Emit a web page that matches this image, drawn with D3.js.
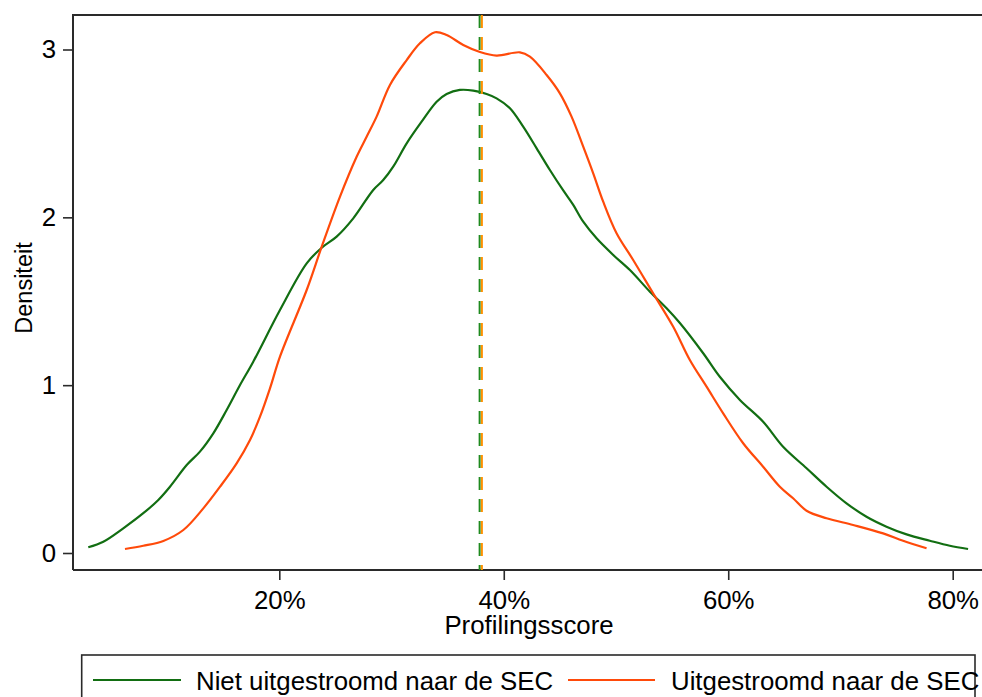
<!DOCTYPE html>
<html>
<head>
<meta charset="utf-8">
<script src="https://cdn.jsdelivr.net/npm/d3@7"></script>
<style>
  body { margin: 0; background: #fff; }
  svg text { font-family: "Liberation Sans", Arial, sans-serif; fill: #000; }
</style>
</head>
<body>
<div id="chart"></div>
<script>
// profilingsscore (%) and density
var nietX = [2.98, 4.32, 6.10, 7.88, 9.22, 10.26, 11.75, 12.93, 14.12, 15.31, 16.50, 17.68, 20.06, 22.44, 23.78, 25.11, 26.59, 28.37, 29.26, 30.15, 31.35, 32.68, 34.02, 34.91, 36.09, 37.28, 38.47, 39.36, 40.55, 41.73, 42.93, 44.11, 45.30, 46.19, 47.08, 48.27, 49.75, 51.24, 53.02, 54.51, 55.69, 57.77, 59.25, 61.04, 63.11, 64.89, 66.98, 68.76, 70.54, 72.32, 74.10, 75.89, 77.96, 79.74, 81.37];
var nietY = [0.034, 0.067, 0.147, 0.237, 0.316, 0.395, 0.524, 0.604, 0.713, 0.852, 1.001, 1.140, 1.448, 1.726, 1.819, 1.885, 1.994, 2.163, 2.222, 2.302, 2.441, 2.570, 2.689, 2.735, 2.759, 2.755, 2.735, 2.709, 2.650, 2.540, 2.411, 2.282, 2.160, 2.074, 1.974, 1.875, 1.776, 1.686, 1.557, 1.458, 1.370, 1.190, 1.050, 0.912, 0.782, 0.633, 0.505, 0.395, 0.296, 0.216, 0.157, 0.111, 0.073, 0.043, 0.024];

var uitX = [6.25, 7.88, 9.67, 11.45, 13.23, 14.72, 16.20, 17.39, 18.28, 19.17, 20.06, 22.44, 23.78, 25.40, 26.89, 27.78, 28.67, 29.86, 31.35, 32.53, 33.87, 34.91, 36.39, 37.88, 39.36, 41.44, 42.33, 43.82, 45.00, 46.04, 47.08, 47.97, 48.86, 50.05, 51.53, 53.31, 55.10, 56.58, 58.07, 59.55, 61.33, 63.11, 64.60, 65.78, 66.98, 68.76, 71.13, 73.80, 75.58, 77.67];
var uitY = [0.024, 0.043, 0.072, 0.137, 0.266, 0.395, 0.534, 0.673, 0.812, 0.981, 1.170, 1.567, 1.825, 2.122, 2.361, 2.480, 2.600, 2.789, 2.937, 3.037, 3.103, 3.086, 3.027, 2.985, 2.964, 2.983, 2.957, 2.848, 2.739, 2.600, 2.421, 2.262, 2.093, 1.905, 1.746, 1.547, 1.348, 1.150, 0.991, 0.832, 0.654, 0.514, 0.395, 0.326, 0.252, 0.207, 0.167, 0.117, 0.073, 0.028];

var nietMean = 37.85, uitMean = 38.05;
var xTicks = [20, 40, 60, 80];
var yTicks = [0, 1, 2, 3];
var legendLabels = ["Niet uitgestroomd naar de SEC", "Uitgestroomd naar de SEC"];

var width = 982, height = 697;
var plot = {left: 73, top: 15, right: 990, bottom: 570};
var green = "#126e12", orange = "#ff4a0a";

var svg = d3.select("#chart").append("svg")
    .attr("width", width)
    .attr("height", height);

var x = d3.scaleLinear().domain([20, 80]).range([279.3, 952.7]);
var y = d3.scaleLinear().domain([0, 3]).range([553, 49.5]);

// frame
svg.append("path")
    .attr("d", "M" + plot.left + "," + plot.bottom + "V" + plot.top + "H" + plot.right)
    .attr("fill", "none").attr("stroke", "#2a2a2a").attr("stroke-width", 2);
svg.append("line")
    .attr("x1", plot.left).attr("x2", plot.right)
    .attr("y1", plot.bottom).attr("y2", plot.bottom)
    .attr("stroke", "#2a2a2a").attr("stroke-width", 2);

var yAxis = svg.append("g")
    .attr("transform", "translate(" + plot.left + ",0)")
    .call(d3.axisLeft(y).tickValues(yTicks).tickSize(10).tickPadding(7).tickFormat(d3.format("d")));
var xAxis = svg.append("g")
    .attr("transform", "translate(0," + plot.bottom + ")")
    .call(d3.axisBottom(x).tickValues(xTicks).tickSize(10).tickPadding(11).tickFormat(function(d){ return d + "%"; }));
[xAxis, yAxis].forEach(function(ax){
    ax.select(".domain").remove();
    ax.selectAll("line").attr("stroke", "#2a2a2a").attr("stroke-width", 1.6);
    ax.selectAll("text").attr("font-size", "25.8px").attr("fill", "#000")
        .attr("font-family", "Liberation Sans, Arial, sans-serif");
});

svg.append("text")
    .attr("x", 529).attr("y", 634)
    .attr("text-anchor", "middle")
    .attr("font-size", "25.8px")
    .text("Profilingsscore");
svg.append("text")
    .attr("transform", "translate(32,288) rotate(-90)")
    .attr("text-anchor", "middle")
    .attr("font-size", "23.5px")
    .text("Densiteit");

var line = d3.line()
    .x(function(d){ return x(d[0]); })
    .y(function(d){ return y(d[1]); })
    .curve(d3.curveCatmullRom);

svg.append("path")
    .datum(d3.zip(nietX, nietY))
    .attr("d", line)
    .attr("fill", "none").attr("stroke", green).attr("stroke-width", 2.2);
svg.append("path")
    .datum(d3.zip(uitX, uitY))
    .attr("d", line)
    .attr("fill", "none").attr("stroke", orange).attr("stroke-width", 2.2);

// mean lines
svg.append("line")
    .attr("x1", x(nietMean)).attr("x2", x(nietMean))
    .attr("y1", plot.top).attr("y2", plot.bottom)
    .attr("stroke", "#1f8a1f").attr("stroke-width", 2)
    .attr("stroke-dasharray", "13,9");
svg.append("line")
    .attr("x1", x(uitMean)).attr("x2", x(uitMean))
    .attr("y1", plot.top).attr("y2", plot.bottom)
    .attr("stroke", "#ff9000").attr("stroke-width", 2)
    .attr("stroke-dasharray", "13,9");

// legend
svg.append("rect")
    .attr("x", 81.7).attr("y", 655)
    .attr("width", 893.3).attr("height", 80)
    .attr("fill", "#fff").attr("stroke", "#2a2a2a").attr("stroke-width", 1.6);
var legend = [
    {label: legendLabels[0], color: green, x0: 93, x1: 181, tx: 196},
    {label: legendLabels[1], color: orange, x0: 568, x1: 655, tx: 671}
];
legend.forEach(function(l){
    svg.append("line")
        .attr("x1", l.x0).attr("x2", l.x1).attr("y1", 680).attr("y2", 680)
        .attr("stroke", l.color).attr("stroke-width", 2.2);
    svg.append("text")
        .attr("x", l.tx).attr("y", 690)
        .attr("font-size", "25.8px")
        .text(l.label);
});
</script>
</body>
</html>
